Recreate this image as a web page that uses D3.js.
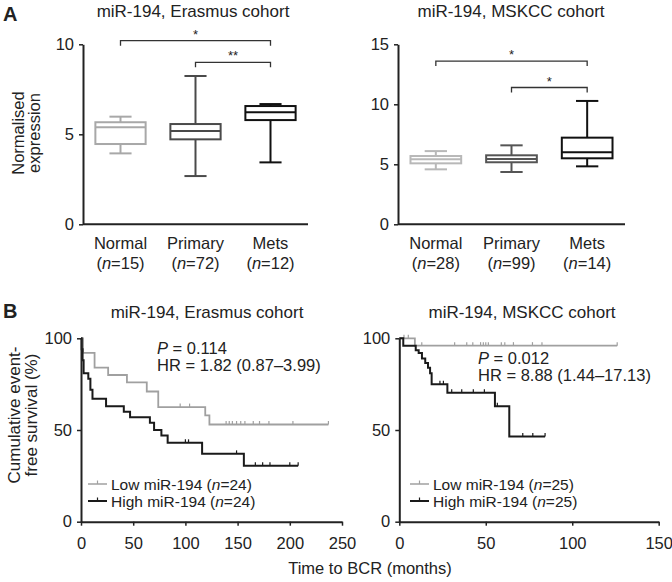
<!DOCTYPE html>
<html>
<head>
<meta charset="utf-8">
<script src="https://cdn.jsdelivr.net/npm/d3@7"></script>
<style>
  body { margin: 0; background: #fff; }
  svg text { font-family: "Liberation Sans", Arial, sans-serif; fill: #222; }
</style>
</head>
<body>
<svg id="fig" width="672" height="582"></svg>
<script>
// ---- panel A data : box plots ----
var groups = ['Normal', 'Primary', 'Mets']
var erasmusN = [15, 72, 12]
var mskccN = [28, 99, 14]
// [lower whisker, q1, median, q3, upper whisker]
var erasmusBox = [[3.94, 4.46, 5.39, 5.67, 5.98], [2.68, 4.72, 5.18, 5.57, 8.24], [3.44, 5.79, 6.22, 6.57, 6.68]]
var mskccBox = [[4.58, 5.08, 5.42, 5.69, 6.10], [4.36, 5.17, 5.44, 5.75, 6.58], [4.83, 5.50, 6.00, 7.22, 10.28]]
var erasmusTicks = [0, 5, 10]
var mskccTicks = [0, 5, 10, 15]
var sigPairs = [[0, 2], [1, 2]]
var erasmusSigY = [10.2, 9.0]
var erasmusSigLabel = ['*', '**']
var mskccSigY = [13.6, 11.4]
var mskccSigLabel = ['*', '*']

// ---- panel B data : Kaplan-Meier steps [months, % survival] ----
var erasmusLow = [[0, 100], [2, 92], [13, 84], [26, 80], [44, 76], [63, 71], [74, 62.5], [119, 58], [123, 53], [237, 53]]
var erasmusHigh = [[0, 100], [0.7, 94], [1.5, 88], [2.5, 81], [7, 78], [9, 72], [11, 67], [24, 63], [41, 60], [47, 57], [66, 54], [70, 50], [77, 47], [83, 43], [116, 37], [156, 30.5], [208, 30.5]]
var erasmusLowCens = [[95, 62.5], [104, 62.5], [139, 53], [142, 53], [145, 53], [149, 53], [153, 53], [157, 53], [165, 53], [171, 53], [180, 53], [203, 53], [237, 53]]
var erasmusHighCens = [[100, 43], [103, 43], [149, 37], [167, 30.5], [174, 30.5], [181, 30.5], [200, 30.5], [208, 30.5]]

var mskccLow = [[0, 100], [9, 96], [126, 96]]
var mskccHigh = [[0, 100], [2.3, 96], [9.5, 93.5], [11.2, 92], [13.1, 89], [15, 86.5], [16.6, 84], [17.8, 81], [18.7, 75], [27.8, 70.3], [55.3, 63], [63.6, 46.5], [84.3, 46.5]]
var mskccLowCens = [[2.7, 100], [5.2, 100], [13, 96], [32, 96], [39, 96], [42.5, 96], [47, 96], [48.6, 96], [50, 96], [51.5, 96], [59, 96], [61, 96], [66, 96], [77, 96], [82.5, 96], [126, 96]]
var mskccHighCens = [[23.5, 75], [25.5, 75], [30.3, 70.3], [36.1, 70.3], [42.8, 70.3], [49.2, 70.3], [56.7, 63], [71.4, 46.5], [77.2, 46.5], [84.3, 46.5]]

var kmTicksErasmus = [0, 50, 100, 150, 200, 250]
var kmTicksMskcc = [0, 50, 100, 150]
var kmYTicks = [0, 50, 100]

var lowColor = '#a0a0a0', highColor = '#1a1a1a'
var boxColorsLeft = ['#a8a8a8', '#4a4a4a', '#111']
var boxColorsRight = ['#b8b8b8', '#555', '#111']

var FS = '16.5px'
var svg = d3.select('#fig')

function styleAxis (g) {
  g.selectAll('path.domain').attr('stroke', '#222').attr('stroke-width', 2)
  g.selectAll('.tick line').attr('stroke', '#222').attr('stroke-width', 1.5)
  g.selectAll('.tick text').style('font-size', '16.5px').attr('fill', '#222')
}

/** box plot panel */
function boxPanel (opt) {
  var x = d3.scaleBand().domain(groups).range([opt.x0, opt.x1]).paddingInner(0.33).paddingOuter(0.165)
  var y = d3.scaleLinear().domain([0, opt.ymax]).range([224.3, 44.3])

  var ya = svg.append('g').attr('transform', 'translate(' + opt.x0 + ',0)')
    .call(d3.axisLeft(y).tickValues(opt.ticks).tickSize(4).tickSizeOuter(0).tickPadding(5))
  styleAxis(ya)
  svg.append('line').attr('x1', opt.x0).attr('x2', opt.x1).attr('y1', y(0)).attr('y2', y(0))
    .attr('stroke', '#222').attr('stroke-width', 2)

  opt.box.forEach(function (b, i) {
    var cx = x(groups[i]) + x.bandwidth() / 2
    var w = x.bandwidth()
    var g = svg.append('g').attr('stroke', opt.colors[i]).attr('stroke-width', 2).attr('fill', 'none')
    g.append('line').attr('x1', cx).attr('x2', cx).attr('y1', y(b[0])).attr('y2', y(b[1]))
    g.append('line').attr('x1', cx).attr('x2', cx).attr('y1', y(b[3])).attr('y2', y(b[4]))
    g.append('line').attr('x1', cx - w * 0.22).attr('x2', cx + w * 0.22).attr('y1', y(b[0])).attr('y2', y(b[0]))
    g.append('line').attr('x1', cx - w * 0.22).attr('x2', cx + w * 0.22).attr('y1', y(b[4])).attr('y2', y(b[4]))
    g.append('rect').attr('x', cx - w / 2).attr('width', w).attr('y', y(b[3])).attr('height', y(b[1]) - y(b[3]))
    g.append('line').attr('x1', cx - w / 2).attr('x2', cx + w / 2).attr('y1', y(b[2])).attr('y2', y(b[2]))

    svg.append('text').attr('x', cx).attr('y', 249).attr('text-anchor', 'middle').style('font-size', FS).text(groups[i])
    var t = svg.append('text').attr('x', cx).attr('y', 269).attr('text-anchor', 'middle').style('font-size', FS)
    t.append('tspan').text('(')
    t.append('tspan').style('font-style', 'italic').text('n')
    t.append('tspan').text('=' + opt.n[i] + ')')
  })

  // significance brackets
  sigPairs.forEach(function (p, k) {
    var xa = x(groups[p[0]]) + x.bandwidth() / 2
    var xb = x(groups[p[1]]) + x.bandwidth() / 2
    var yy = y(opt.sigY[k])
    svg.append('path').attr('d', 'M' + xa + ',' + (yy + 5) + 'V' + yy + 'H' + xb + 'V' + (yy + 5))
      .attr('fill', 'none').attr('stroke', '#333').attr('stroke-width', 1.3)
    svg.append('text').attr('x', (xa + xb) / 2).attr('y', yy - 2).attr('text-anchor', 'middle')
      .style('font-size', '13px').text(opt.sigLabel[k])
  })

  svg.append('text').attr('x', opt.titleX).attr('y', 17).attr('text-anchor', 'middle').style('font-size', '17px').text(opt.title)
}

/** survival panel */
function kmPanel (opt) {
  var x = d3.scaleLinear().domain([0, opt.xmax]).range([opt.x0, opt.x1])
  var y = d3.scaleLinear().domain([0, 100]).range([521.7, 338.3])

  var line = d3.line().x(function (d) { return x(d[0]) }).y(function (d) { return y(d[1]) }).curve(d3.curveStepAfter)

  var series = [[opt.low, opt.lowCens, lowColor, 1.8], [opt.high, opt.highCens, highColor, 2]]
  series.forEach(function (s) {
    svg.append('path').attr('d', line(s[0])).attr('fill', 'none').attr('stroke', s[2]).attr('stroke-width', s[3])
    svg.selectAll(null).data(s[1]).enter().append('line')
      .attr('x1', function (d) { return x(d[0]) }).attr('x2', function (d) { return x(d[0]) })
      .attr('y1', function (d) { return y(d[1]) }).attr('y2', function (d) { return y(d[1]) - 3.5 })
      .attr('stroke', s[2]).attr('stroke-width', 1.2)
  })

  var ya = svg.append('g').attr('transform', 'translate(' + opt.x0 + ',0)')
    .call(d3.axisLeft(y).tickValues(kmYTicks).tickSize(4).tickSizeOuter(0).tickPadding(5))
  styleAxis(ya)
  var xa = svg.append('g').attr('transform', 'translate(0,' + y(0) + ')')
    .call(d3.axisBottom(x).tickValues(opt.ticks).tickSize(4).tickSizeOuter(0).tickPadding(12))
  styleAxis(xa)

  // legend
  var rows = [['Low miR-194 (', lowColor], ['High miR-194 (', highColor]]
  rows.forEach(function (r, i) {
    var ly = 484 + i * 17
    svg.append('line').attr('x1', opt.legX).attr('x2', opt.legX + 19).attr('y1', ly).attr('y2', ly)
      .attr('stroke', r[1]).attr('stroke-width', i ? 2 : 1.5)
    svg.append('line').attr('x1', opt.legX + 9.5).attr('x2', opt.legX + 9.5).attr('y1', ly).attr('y2', ly - 3.5)
      .attr('stroke', r[1]).attr('stroke-width', 1.2)
    var t = svg.append('text').attr('x', opt.legX + 23).attr('y', ly + 5.5).style('font-size', '15.5px')
    t.append('tspan').text(r[0])
    t.append('tspan').style('font-style', 'italic').text('n')
    t.append('tspan').text('=' + opt.n + ')')
  })

  var p = svg.append('text').attr('x', opt.pX).attr('y', opt.pY).style('font-size', FS)
  p.append('tspan').style('font-style', 'italic').text('P')
  p.append('tspan').text(' = ' + opt.p)
  svg.append('text').attr('x', opt.pX).attr('y', opt.pY + 16.5).style('font-size', FS).text('HR = ' + opt.hr)

  svg.append('text').attr('x', opt.titleX).attr('y', 318).attr('text-anchor', 'middle').style('font-size', '17px').text(opt.title)
}

boxPanel({ x0: 83, x1: 308, ymax: 10, ticks: erasmusTicks, box: erasmusBox, n: erasmusN, colors: boxColorsLeft,
  sigY: erasmusSigY, sigLabel: erasmusSigLabel, title: 'miR-194, Erasmus cohort', titleX: 193 })
boxPanel({ x0: 398, x1: 625, ymax: 15, ticks: mskccTicks, box: mskccBox, n: mskccN, colors: boxColorsRight,
  sigY: mskccSigY, sigLabel: mskccSigLabel, title: 'miR-194, MSKCC cohort', titleX: 511 })

kmPanel({ x0: 81, x1: 342, xmax: 250, ticks: kmTicksErasmus, low: erasmusLow, high: erasmusHigh,
  lowCens: erasmusLowCens, highCens: erasmusHighCens, n: 24, legX: 88, pX: 157, pY: 354,
  p: '0.114', hr: '1.82 (0.87\u20133.99)', title: 'miR-194, Erasmus cohort', titleX: 207 })
kmPanel({ x0: 399.3, x1: 658.7, xmax: 150, ticks: kmTicksMskcc, low: mskccLow, high: mskccHigh,
  lowCens: mskccLowCens, highCens: mskccHighCens, n: 25, legX: 410, pX: 478, pY: 364,
  p: '0.012', hr: '8.88 (1.44\u201317.13)', title: 'miR-194, MSKCC cohort', titleX: 522 })

/** panel letters and axis titles */
svg.append('text').attr('x', 3).attr('y', 21).style('font-size', '20px').style('font-weight', 'bold').text('A')
svg.append('text').attr('x', 3).attr('y', 318).style('font-size', '20px').style('font-weight', 'bold').text('B')

var yl = svg.append('text').attr('transform', 'translate(0,133) rotate(-90)').attr('text-anchor', 'middle').style('font-size', FS)
yl.append('tspan').attr('x', 0).attr('y', 24).text('Normalised')
yl.append('tspan').attr('x', 0).attr('y', 40).text('expression')

var yl2 = svg.append('text').attr('transform', 'translate(0,415) rotate(-90)').attr('text-anchor', 'middle').style('font-size', '17px')
yl2.append('tspan').attr('x', 0).attr('y', 20).text('Cumulative event-')
yl2.append('tspan').attr('x', 0).attr('y', 37).text('free survival (%)')

svg.append('text').attr('x', 370).attr('y', 574).attr('text-anchor', 'middle').style('font-size', FS).text('Time to BCR (months)')
</script>
</body>
</html>
